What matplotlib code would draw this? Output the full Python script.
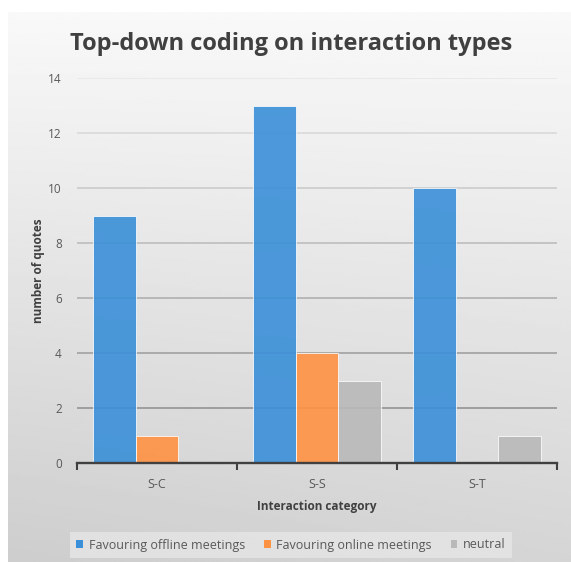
import numpy as np
import matplotlib.pyplot as plt
from matplotlib.patches import Patch

## === Data === ##
categories = ["S-C", "S-S", "S-T"]
offline = [9, 13, 10]
online = [1, 4, 0]
neutral = [0, 3, 1]
series_names = ["Favouring offline meetings", "Favouring online meetings", "neutral"]
series_colors = ["#3a8fd8", "#ff9142", "#b9b9b9"]

plt.rcParams["font.family"] = ["Open Sans", "DejaVu Sans"]

fig = plt.figure(figsize=(5.71, 5.62), dpi=100)

# background panel with gradient
bg = fig.add_axes([8 / 571, 0, 1 - 8 / 571, 1 - 12 / 562])
yy, xx = np.mgrid[0:1:200j, 0:1:200j]
shade = 0.975 - 0.14 * yy - 0.03 * (1 - xx) * yy
bg.imshow(shade, cmap="gray", vmin=0, vmax=1, aspect="auto", extent=[0, 1, 1, 0])
bg.set_axis_off()

ax = fig.add_axes([77 / 571, 1 - 463 / 562, (557 - 77) / 571, (463 - 78) / 562])
ax.patch.set_alpha(0)

x = np.arange(len(categories))
w = 0.268
for i, (vals, name, col) in enumerate(zip([offline, online, neutral], series_names, series_colors)):
    ax.bar(x + (i - 1) * w, vals, w, color=col, edgecolor="white", linewidth=0.6,
           alpha=0.9, label=name, zorder=2)

ax.set_xlim(-0.5, 2.5)
ax.set_ylim(0, 14)
ax.set_yticks(range(0, 15, 2))
for v in range(2, 15, 2):
    c = 0.55 + 0.36 * (v / 14)
    ax.axhline(v, color=(c, c, c), linewidth=1.3, zorder=1)

for s in ["top", "right", "left"]:
    ax.spines[s].set_visible(False)
ax.spines["bottom"].set_color("#404040")
ax.spines["bottom"].set_linewidth(1.7)
ax.spines["bottom"].set_zorder(4)

ax.set_xticks(x)
ax.set_xticklabels(categories)
ax.set_xticks([-0.5, 0.5, 1.5, 2.5], minor=True)
ax.tick_params(axis="x", which="major", length=0, pad=11, labelsize=9, labelcolor="#595959")
ax.tick_params(axis="x", which="minor", length=5, width=1.5, color="#404040")
ax.tick_params(axis="y", length=0, pad=11, labelsize=8.5, labelcolor="#595959")

ax.set_xlabel("Interaction category", fontsize=8.5, fontweight="bold", color="#404040", labelpad=6)
ax.set_ylabel("number of quotes", fontsize=8.5, fontweight="bold", color="#404040", labelpad=2)

fig.text(291 / 571, 1 - 44 / 562, "Top-down coding on interaction types", ha="center", va="center",
         fontsize=17, fontweight="bold", color="#404040")

handles = [Patch(facecolor=c, edgecolor="none") for c in series_colors]
leg = fig.legend(handles, series_names, loc="center", bbox_to_anchor=(291 / 571, 1 - 545 / 562),
                 ncol=3, fontsize=9, frameon=True, fancybox=False, handlelength=0.55, handleheight=0.55,
                 columnspacing=1.5, handletextpad=0.45, labelcolor="#595959", borderpad=0.5)
leg.get_frame().set_facecolor("#e6e6e6")
leg.get_frame().set_edgecolor("none")

fig.savefig("out.png", dpi=100)
